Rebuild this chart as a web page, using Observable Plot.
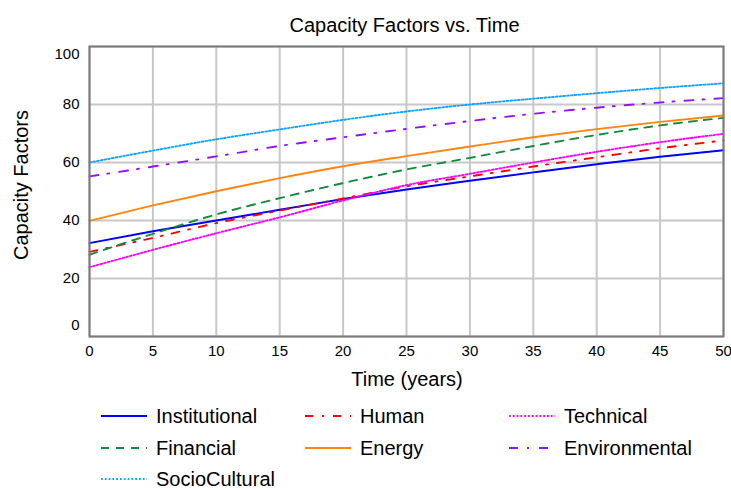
<!DOCTYPE html>
<html><head><meta charset="utf-8">
<script src="https://cdn.jsdelivr.net/npm/d3@7"></script>
<script src="https://cdn.jsdelivr.net/npm/@observablehq/plot@0.6"></script>
<style>
body{margin:0;background:#fff;}
#wrap{position:relative;width:731px;height:490px;font-family:"Liberation Sans",Arial,sans-serif;color:#000;overflow:hidden;background:#fff}
.t{position:absolute;white-space:nowrap;font-size:20px;line-height:20px}
#plot{position:absolute;left:0;top:0}
.leg{position:absolute}
</style></head><body><div id="wrap"><div id="plot"></div></div>
<script>
const years = [0, 5, 10, 15, 20, 25, 30, 35, 40, 45, 50];
const institutional = [32.2, 36.3, 40.0, 43.7, 47.4, 50.7, 53.7, 56.6, 59.4, 62.0, 64.2];
const human = [29.2, 34.0, 39.1, 43.4, 47.6, 51.8, 55.2, 58.6, 61.8, 64.9, 67.6];
const technical = [23.9, 29.9, 35.6, 41.1, 46.9, 52.2, 56.1, 60.0, 63.7, 67.0, 69.9];
const financial = [28.2, 35.4, 42.1, 47.7, 52.9, 57.6, 61.6, 65.7, 69.5, 72.8, 75.4];
const energy = [39.9, 45.2, 50.1, 54.6, 58.7, 62.2, 65.5, 68.7, 71.5, 74.0, 76.2];
const environmental = [55.2, 58.6, 62.1, 65.7, 68.7, 71.6, 74.3, 76.8, 78.9, 80.7, 82.2];
const socioCultural = [60.0, 64.1, 68.0, 71.4, 74.7, 77.6, 80.0, 82.0, 83.9, 85.7, 87.3];

const seriesNames = ["Institutional", "Human", "Technical", "Financial", "Energy", "Environmental", "SocioCultural"];
const seriesValues = [institutional, human, technical, financial, energy, environmental, socioCultural];
const seriesColors = ["#0000ff", "#ff0000", "#ff00ff", "#138a3c", "#ff8410", "#9410ff", "#12a4ff"];
const seriesDash = [undefined, "8,9,2,9", "1.8,2", "8,7", undefined, "9,9,2,10", "1.8,2"];

const xTicks = [0, 5, 10, 15, 20, 25, 30, 35, 40, 45, 50];
const yTicks = [0, 20, 40, 60, 80, 100];

const titleText = "Capacity Factors vs. Time";
const xTitle = "Time (years)";
const yTitle = "Capacity Factors";

const FONT = '"Liberation Sans", Arial, sans-serif';

const data = seriesNames.flatMap((name, i) => years.map((t, j) => ({name, t, v: seriesValues[i][j]})));

const chart = Plot.plot({
  width: 731, height: 400,
  marginLeft: 89, marginRight: 8, marginTop: 46, marginBottom: 64,
  style: {fontFamily: FONT, fontSize: "15px", color: "#000", background: "transparent", overflow: "visible"},
  x: {domain: [0, 50], label: null},
  y: {domain: [0, 100], label: null},
  marks: [
    Plot.gridX(xTicks, {stroke: "#c8c8c8", strokeOpacity: 1, strokeWidth: 2}),
    Plot.gridY(yTicks, {stroke: "#c8c8c8", strokeOpacity: 1, strokeWidth: 2}),
    ...seriesNames.map((name, i) => Plot.lineY(data.filter(d => d.name === name), {
      x: "t", y: "v", stroke: seriesColors[i], strokeWidth: 1.9,
      strokeDasharray: seriesDash[i], curve: "monotone-x"
    })),
    Plot.frame({stroke: "#7a7a7a", strokeWidth: 2}),
    Plot.axisX(xTicks, {tickSize: 0, tickPadding: 9, label: null, fontSize: 15}),
    Plot.axisY([20, 40, 60, 80], {tickSize: 0, tickPadding: 10, label: null, fontSize: 15}),
    Plot.axisY([100], {tickSize: 0, tickPadding: 10, label: null, fontSize: 15, dy: 8}),
    Plot.axisY([0], {tickSize: 0, tickPadding: 10, label: null, fontSize: 15, dy: -11})
  ]
});
document.getElementById("plot").appendChild(chart);

const wrap = document.getElementById("wrap");
function addText(txt, left, top, transform) {
  const d = document.createElement("div");
  d.className = "t";
  d.textContent = txt;
  d.style.left = left + "px";
  d.style.top = top + "px";
  if (transform) d.style.transform = transform;
  wrap.appendChild(d);
  return d;
}
// Title, axis titles
addText(titleText, 404.5, 15, "translateX(-50%)");
addText(xTitle, 407, 369, "translateX(-50%)");
addText(yTitle, 21, 185, "translate(-50%,-50%) rotate(-90deg)");

// Legend
const legCols = [101, 305, 509];
const legRows = [416, 448, 479];
seriesNames.forEach((name, i) => {
  const cx = legCols[i % 3], cy = legRows[Math.floor(i / 3)];
  const ns = "http://www.w3.org/2000/svg";
  const s = document.createElementNS(ns, "svg");
  s.setAttribute("width", 46); s.setAttribute("height", 6);
  s.setAttribute("class", "leg");
  s.style.left = cx + "px"; s.style.top = (cy - 3) + "px";
  const l = document.createElementNS(ns, "line");
  l.setAttribute("x1", 0); l.setAttribute("x2", 46);
  l.setAttribute("y1", 3); l.setAttribute("y2", 3);
  l.setAttribute("stroke", seriesColors[i]);
  l.setAttribute("stroke-width", 1.9);
  if (seriesDash[i]) l.setAttribute("stroke-dasharray", seriesDash[i]);
  s.appendChild(l);
  wrap.appendChild(s);
  addText(name, cx + 55, cy - 10);
});
</script>
</body></html>
